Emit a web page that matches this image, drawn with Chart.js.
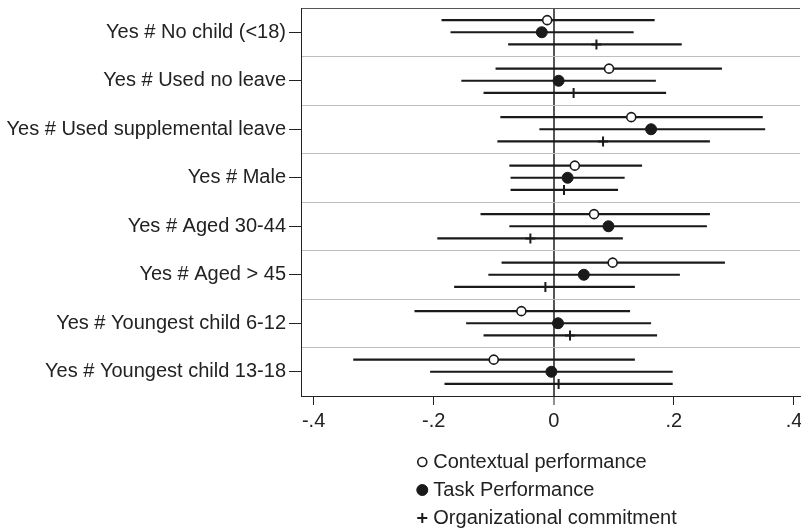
<!DOCTYPE html>
<html>
<head>
<meta charset="utf-8">
<script src="https://cdn.jsdelivr.net/npm/chart.js@4"></script>
<style>
  body { margin: 0; background: #fff; }
  #wrap { width: 801px; height: 530px; }
</style>
</head>
<body>
<div id="wrap"><canvas id="myChart" width="801" height="530"></canvas></div>
<script>
// categories (top to bottom)
const categories = [
  'Yes # No child (<18)',
  'Yes # Used no leave',
  'Yes # Used supplemental leave',
  'Yes # Male',
  'Yes # Aged 30-44',
  'Yes # Aged > 45',
  'Yes # Youngest child 6-12',
  'Yes # Youngest child 13-18'
];
const seriesNames = ['Contextual performance', 'Task Performance', 'Organizational commitment'];

// point estimates and confidence intervals
const contextualCoef = [-0.011, 0.092, 0.129, 0.035, 0.067, 0.098, -0.054, -0.100];
const contextualLo   = [-0.187, -0.097, -0.089, -0.074, -0.122, -0.087, -0.232, -0.334];
const contextualHi   = [0.168, 0.280, 0.348, 0.147, 0.260, 0.285, 0.127, 0.135];

const taskCoef = [-0.020, 0.008, 0.162, 0.023, 0.091, 0.050, 0.007, -0.004];
const taskLo   = [-0.172, -0.154, -0.024, -0.072, -0.074, -0.109, -0.146, -0.206];
const taskHi   = [0.133, 0.170, 0.352, 0.118, 0.255, 0.210, 0.162, 0.198];

const orgCoef = [0.071, 0.033, 0.082, 0.017, -0.039, -0.014, 0.027, 0.008];
const orgLo   = [-0.076, -0.117, -0.094, -0.072, -0.194, -0.166, -0.117, -0.182];
const orgHi   = [0.213, 0.187, 0.260, 0.107, 0.115, 0.135, 0.172, 0.198];

const xTicks = [-0.4, -0.2, 0, 0.2, 0.4];
const xTickLabels = ['-.4', '-.2', '0', '.2', '.4'];

const FONT = "'Liberation Sans', Arial, Helvetica, sans-serif";
const INK = '#1a1a1a';

// ข้อมูลชุด: ตำแหน่งเลื่อนขึ้นลงในแต่ละหมวด
const series = [
  { coef: contextualCoef, lo: contextualLo, hi: contextualHi, shift: -0.25,
    style: { pointStyle: 'circle', radius: 4.5, bg: '#fff', border: 1.6 } },
  { coef: taskCoef, lo: taskLo, hi: taskHi, shift: 0,
    style: { pointStyle: 'circle', radius: 5.5, bg: INK, border: 1 } },
  { coef: orgCoef, lo: orgLo, hi: orgHi, shift: 0.25,
    style: { pointStyle: 'cross', radius: 5, bg: INK, border: 2 } }
];

const pointSets = series.map((s, k) => ({
  type: 'scatter',
  label: seriesNames[k],
  data: s.coef.map((v, i) => ({ x: v, y: i + 1 + s.shift })),
  pointStyle: s.style.pointStyle,
  pointRadius: s.style.radius,
  pointBackgroundColor: s.style.bg,
  pointBorderColor: INK,
  pointBorderWidth: s.style.border,
  order: 0
}));

const ciSets = series.map((s, k) => ({
  type: 'scatter',
  label: seriesNames[k] + ' CI',
  data: s.lo.flatMap((lo, i) => [
    { x: lo, y: i + 1 + s.shift },
    { x: s.hi[i], y: i + 1 + s.shift },
    { x: null, y: null }
  ]),
  showLine: true,
  spanGaps: false,
  borderColor: INK,
  borderWidth: 2.2,
  pointRadius: 0,
  order: 1
}));

// legend below the plot, one item per row
const stackedLegend = {
  id: 'stackedLegend',
  afterDraw(chart) {
    const ctx = chart.ctx;
    const area = chart.chartArea;
    ctx.save();
    ctx.font = '20px ' + FONT;
    const textW = Math.max(...seriesNames.map(n => ctx.measureText(n).width));
    const markW = 11;
    const startX = (area.left + area.right) / 2 - (markW + textW) / 2 - 1;
    seriesNames.forEach((name, k) => {
      const y = area.bottom + 66 + k * 28;
      const st = series[k].style;
      ctx.fillStyle = st.bg;
      ctx.strokeStyle = INK;
      ctx.lineWidth = st.border;
      Chart.helpers.drawPoint(ctx, {
        pointStyle: st.pointStyle, radius: st.radius, rotation: 0, borderWidth: st.border
      }, startX, y);
      ctx.fillStyle = '#222';
      ctx.textBaseline = 'middle';
      ctx.textAlign = 'left';
      ctx.fillText(name, startX + markW, y);
    });
    ctx.restore();
  }
};

const ctx = document.getElementById('myChart').getContext('2d');
const myChart = new Chart(ctx, {
  data: { datasets: [...pointSets, ...ciSets] },
  options: {
    responsive: false,
    animation: false,
    layout: { autoPadding: false, padding: { top: 8, right: 1, bottom: 94, left: 0 } },
    plugins: {
      legend: { display: false },
      tooltip: { enabled: false }
    },
    scales: {
      x: {
        type: 'linear',
        min: -0.421,
        max: 0.41,
        afterBuildTicks: axis => { axis.ticks = xTicks.map(v => ({ value: v })); },
        afterFit: axis => {
          axis.height = 40;
          axis.paddingLeft = 0;
          axis.paddingRight = 0;
        },
        ticks: {
          autoSkip: false,
          maxRotation: 0,
          padding: 4,
          color: '#222',
          font: { family: FONT, size: 20 },
          callback: (value, index) => xTickLabels[index]
        },
        grid: {
          color: c => (c.tick && c.tick.value === 0) ? '#555' : 'transparent',
          lineWidth: c => (c.tick && c.tick.value === 0) ? 2 : 1,
          tickColor: '#222',
          tickWidth: 1,
          tickLength: 9
        },
        border: { color: '#222', width: 1 }
      },
      y: {
        type: 'linear',
        reverse: true,
        min: 0.5,
        max: 8.5,
        afterBuildTicks: axis => {
          const t = [];
          for (let v = 0.5; v <= 8.5; v += 0.5) t.push({ value: v });
          axis.ticks = t;
        },
        afterFit: axis => {
          axis.width = 301;
          axis.paddingTop = 0;
          axis.paddingBottom = 0;
        },
        ticks: {
          autoSkip: false,
          padding: 3,
          color: '#222',
          font: { family: FONT, size: 20 },
          callback: value => Number.isInteger(value) ? categories[value - 1] : ''
        },
        grid: {
          color: c => {
            const v = c.tick ? c.tick.value : 1;
            if (v === 0.5) return '#555';
            return Number.isInteger(v) ? 'transparent' : '#bdbdbd';
          },
          lineWidth: 1,
          tickColor: c => (c.tick && Number.isInteger(c.tick.value)) ? '#222' : 'transparent',
          tickLength: 12
        },
        border: { color: '#222', width: 1 }
      }
    }
  },
  plugins: [stackedLegend]
});
</script>
</body>
</html>
